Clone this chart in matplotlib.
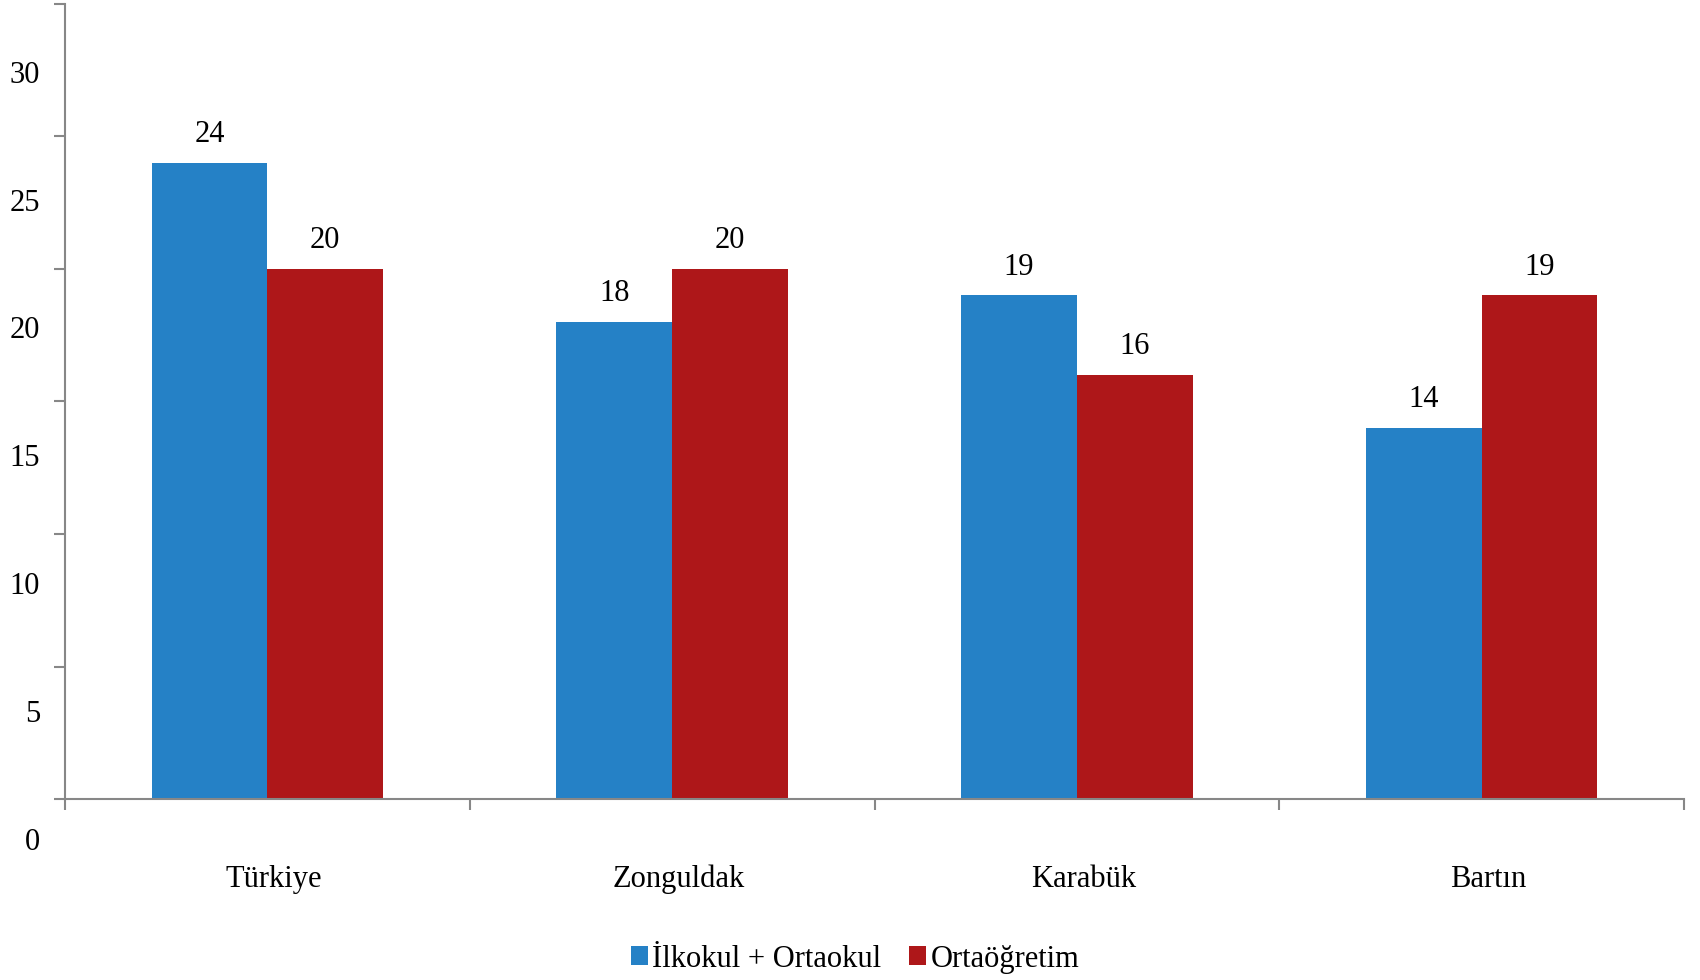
import numpy as np
import matplotlib.pyplot as plt
from matplotlib.transforms import blended_transform_factory

# veriler
categories = ["Türkiye", "Zonguldak", "Karabük", "Bartın"]
ilk_orta = [24, 18, 19, 14]
ortaogretim = [20, 20, 16, 19]
series_names = ["İlkokul + Ortaokul", "Ortaöğretim"]
y_ticks = [0, 5, 10, 15, 20, 25, 30]

BLUE = "#2581C6"
RED = "#AE1719"
GRAY = "#878787"
FS = 22

plt.rcParams["font.family"] = ["Liberation Serif", "DejaVu Serif"]

fig = plt.figure(figsize=(17, 9.8), dpi=100)
ax = fig.add_axes([65 / 1700, 181 / 980, (1684 - 65) / 1700, (799 - 4) / 980])

x = np.arange(len(categories))
w = 1 / 3.5
b1 = ax.bar(x - w / 2, ilk_orta, w, color=BLUE, label=series_names[0])
b2 = ax.bar(x + w / 2, ortaogretim, w, color=RED, label=series_names[1])

for bars, vals in [(b1, ilk_orta), (b2, ortaogretim)]:
    for r, v in zip(bars, vals):
        ax.annotate(str(v), (r.get_x() + r.get_width() / 2, v), xytext=(0, 10),
                    textcoords="offset points", ha="center", va="bottom", fontsize=FS)

ax.set_xlim(-0.5, len(categories) - 0.5)
ax.set_ylim(0, 30)
for s in ["top", "right"]:
    ax.spines[s].set_visible(False)
for s in ["left", "bottom"]:
    ax.spines[s].set_color(GRAY)
    ax.spines[s].set_linewidth(1.5)

# kategori sinirlarinda tik
ax.set_xticks(np.arange(-0.5, len(categories), 1))
ax.set_xticklabels([])
ax.tick_params(axis="x", length=8, width=1.5, color=GRAY)
ax.set_yticks(y_ticks)
ax.set_yticklabels([])
ax.tick_params(axis="y", length=8, width=1.5, color=GRAY)

# kategori etiketleri
for i, c in enumerate(categories):
    ax.text(i + 6.5 / 405, -80 / 26.5, c, ha="center", va="center", fontsize=FS)

# y etiketleri (orijinaldeki gibi kaymis)
tr = blended_transform_factory(fig.transFigure, fig.transFigure)
for k, v in enumerate(y_ticks):
    ypix = 842 - k * 127.8
    ax.text(40 / 1700, 1 - ypix / 980, str(v), ha="right", va="center",
            fontsize=FS, transform=tr)

fig.legend(loc="center", bbox_to_anchor=(0.503, 1 - 959 / 980), ncol=2, frameon=False,
           fontsize=FS, handlelength=0.55, handleheight=0.55, handletextpad=0.15,
           columnspacing=0.9)

fig.savefig("out.png", dpi=100)
